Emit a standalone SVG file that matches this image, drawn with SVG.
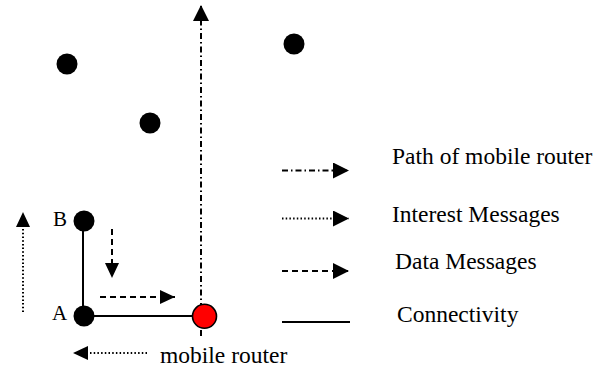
<svg xmlns="http://www.w3.org/2000/svg" width="603" height="370" viewBox="0 0 603 370">
<style>
text{font-family:"Liberation Serif","Times New Roman",serif;fill:#000}
.lg{font-size:23.5px}
.lb{font-size:21px}
.dot{fill:#000}
.solid{stroke:#000;stroke-width:2;fill:none}
.dotted{stroke:#000;stroke-width:2;stroke-dasharray:1.5 2.2;fill:none}
.dashed{stroke:#000;stroke-width:2;stroke-dasharray:6 4;fill:none}
.dashdot{stroke:#000;stroke-width:2;stroke-dasharray:6 3 1.5 3;fill:none}
</style>
<defs>
<marker id="ah" markerUnits="userSpaceOnUse" markerWidth="16" markerHeight="16" viewBox="0 0 16 16" refX="15" refY="7" orient="auto">
<path d="M0,0 L15,7 L0,14 z" fill="#000"/>
</marker>
<marker id="ahL" markerUnits="userSpaceOnUse" markerWidth="17" markerHeight="17" viewBox="0 0 17 17" refX="16" refY="8" orient="auto">
<path d="M0,0 L16,8 L0,16 z" fill="#000"/>
</marker>
</defs>
<g id="connectors">
<line class="solid" x1="83" y1="222" x2="83" y2="316"/>
<line class="solid" x1="84" y1="316" x2="193" y2="316"/>
<line class="dashdot" x1="201" y1="336" x2="201" y2="5" marker-end="url(#ahL)"/>
<line class="dotted" x1="23" y1="312" x2="23" y2="212" marker-end="url(#ah)"/>
<line class="dashed" x1="112" y1="229" x2="112" y2="278" marker-end="url(#ah)"/>
<line class="dashed" x1="100" y1="297" x2="175" y2="297" marker-end="url(#ah)"/>
<line class="dotted" x1="147" y1="353" x2="73" y2="353" marker-end="url(#ah)"/>
</g>
<g id="legend">
<line class="dashdot" x1="282" y1="170.5" x2="349" y2="170.5" marker-end="url(#ahL)"/>
<line class="dotted" x1="282" y1="218.5" x2="349" y2="218.5" marker-end="url(#ahL)"/>
<line class="dashed" x1="282" y1="271" x2="349" y2="271" marker-end="url(#ahL)"/>
<line class="solid" x1="282" y1="322" x2="350" y2="322"/>
<text class="lg" x="392" y="164">Path of mobile router</text>
<text class="lg" x="392" y="222">Interest Messages</text>
<text class="lg" x="395" y="269">Data Messages</text>
<text class="lg" x="397" y="322">Connectivity</text>
</g>
<g id="node1"><circle class="dot" cx="67" cy="64" r="10.5"/></g>
<g id="node2"><circle class="dot" cx="150" cy="123" r="10.5"/></g>
<g id="node3"><circle class="dot" cx="294" cy="44" r="10.5"/></g>
<g id="nodeB"><circle class="dot" cx="84" cy="221" r="10.5"/><text class="lb" x="53" y="225.5">B</text></g>
<g id="nodeA"><circle class="dot" cx="84" cy="316" r="10.5"/><text class="lb" x="52" y="319.5">A</text></g>
<g id="mobileRouter"><circle cx="204.5" cy="316.3" r="12" fill="#ff0000" stroke="#000" stroke-width="1.6"/></g>
<text class="lg" x="160" y="363">mobile router</text>
</svg>
